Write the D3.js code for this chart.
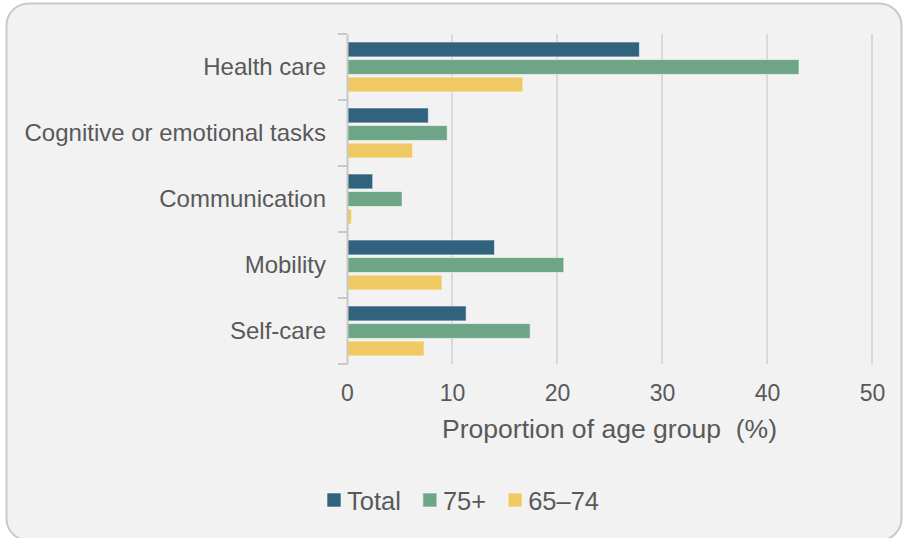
<!DOCTYPE html>
<html><head><meta charset="utf-8">
<script src="https://cdn.jsdelivr.net/npm/d3@7"></script>
<style>html,body{margin:0;padding:0;background:#fff;}svg{display:block;}</style>
</head><body>
<svg id="c" width="904" height="538"></svg>
<script>
const categories = ["Health care","Cognitive or emotional tasks","Communication","Mobility","Self-care"];
const seriesNames = ["Total","75+","65\u201374"];
const totalValues = [27.8, 7.7, 2.4, 14.0, 11.3];
const age75Values = [43.0, 9.5, 5.2, 20.6, 17.4];
const age6574Values = [16.7, 6.2, 0.4, 9.0, 7.3];
const xTicks = [0,10,20,30,40,50];
const colors = ["#31637f","#6fa587","#efca64"];
const seriesValues = [totalValues, age75Values, age6574Values];

const svg = d3.select("#c");
const font = "'Liberation Sans', Arial, sans-serif";
const textColor = "#595959";

svg.append("rect").attr("x",6.5).attr("y",3.5).attr("width",895).attr("height",537)
  .attr("rx",22).attr("fill","#f2f2f2").attr("stroke","#c9c9c9").attr("stroke-width",2);

const x = d3.scaleLinear().domain([0,50]).range([347,872]);
const y = d3.scaleBand().domain(categories).range([34,364]).paddingInner(0).paddingOuter(0);
const inner = d3.scaleBand().domain(seriesNames).range([8, y.bandwidth()-8]).paddingInner(0.15).paddingOuter(0);

// gridlines
svg.append("g").selectAll("line").data(xTicks.filter(d=>d>0)).join("line")
  .attr("x1",d=>x(d)).attr("x2",d=>x(d)).attr("y1",34).attr("y2",364)
  .attr("stroke","#d9d9d9").attr("stroke-width",2);

// bars
const groups = svg.append("g").selectAll("g").data(categories).join("g")
  .attr("transform",d=>`translate(0,${y(d)})`);
groups.selectAll("rect").data((c,i)=>seriesNames.map((s,j)=>({s, v:seriesValues[j][i], j})))
  .join("rect")
  .attr("x",x(0)+0.5).attr("y",d=>inner(d.s)).attr("width",d=>Math.max(0,x(d.v)-x(0)))
  .attr("height",inner.bandwidth())
  .attr("fill",d=>colors[d.j]).attr("stroke","rgba(255,255,255,0.55)").attr("stroke-width",1);

// y axis
const yAxis = d3.axisLeft(y).tickSize(0).tickPadding(21);
const gy = svg.append("g").attr("transform",`translate(${x(0)},0)`).call(yAxis);
gy.select(".domain").attr("stroke","#c8c8c8").attr("stroke-width",2);
gy.selectAll("text").attr("font-family",font).attr("font-size","24px").attr("fill",textColor);
// category separator ticks
svg.append("g").selectAll("line").data(d3.range(categories.length+1)).join("line")
  .attr("x1",338).attr("x2",x(0)).attr("y1",i=>34+i*y.step()).attr("y2",i=>34+i*y.step())
  .attr("stroke","#c8c8c8").attr("stroke-width",2);

// x axis
const xAxis = d3.axisBottom(x).tickValues(xTicks).tickSize(0).tickPadding(21).tickFormat(d3.format("d"));
const gx = svg.append("g").attr("transform",`translate(0,364)`).call(xAxis);
gx.select(".domain").remove();
gx.selectAll("text").attr("font-family",font).attr("font-size","23px").attr("fill",textColor);

svg.append("text").attr("x",609.5).attr("y",438).attr("text-anchor","middle")
  .attr("font-family",font).attr("font-size","25.5px").attr("fill",textColor)
  .attr("xml:space","preserve").attr("textLength",335).attr("lengthAdjust","spacingAndGlyphs")
  .text("Proportion of age group  (%)");

// legend
let lx = 327;
seriesNames.forEach((s,j)=>{
  svg.append("rect").attr("x",lx).attr("y",493).attr("width",14).attr("height",14)
    .attr("fill",colors[j]).attr("stroke","rgba(255,255,255,0.55)").attr("stroke-width",1);
  const t = svg.append("text").attr("x",lx+20).attr("y",509.5)
    .attr("font-family",font).attr("font-size","25.5px").attr("fill",textColor).text(s);
  lx += 20 + t.node().getComputedTextLength() + 22;
});
</script>
</body></html>
